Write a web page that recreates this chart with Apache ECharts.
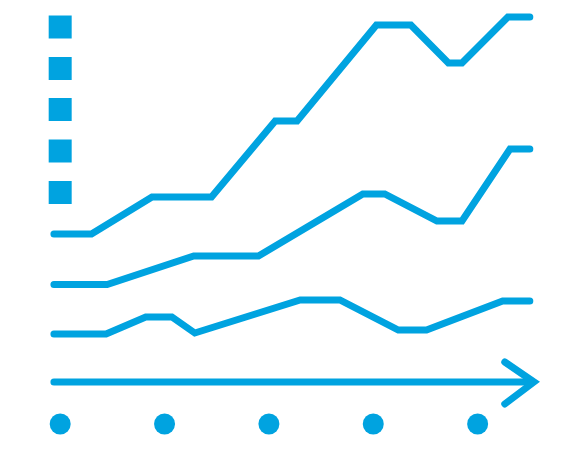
<!DOCTYPE html>
<html>
<head>
<meta charset="utf-8">
<script src="https://cdn.jsdelivr.net/npm/echarts@6/dist/echarts.min.js"></script>
<style>html,body{margin:0;padding:0;background:#fff}#c{width:582px;height:450px}</style>
</head>
<body>
<div id="c"></div>
<script>
// Line series values: [x, y]
var topLine = [[-0.06,14.8],[0.30,14.8],[0.88,18.5],[1.45,18.5],[2.06,26.1],[2.27,26.1],[3.03,35.7],[3.36,35.7],[3.72,31.9],[3.85,31.9],[4.29,36.5],[4.50,36.5]];
var midLine = [[-0.06,9.75],[0.45,9.75],[1.28,12.6],[1.90,12.6],[2.90,18.8],[3.11,18.8],[3.61,16.1],[3.85,16.1],[4.31,23.3],[4.50,23.3]];
var lowLine = [[-0.06,4.8],[0.44,4.8],[0.82,6.5],[1.07,6.5],[1.29,4.9],[2.30,8.2],[2.68,8.2],[3.24,5.2],[3.51,5.2],[4.24,8.1],[4.50,8.1]];
// x-axis category dots and y-axis tick squares
var xDots = [0, 1, 2, 3, 4];
var yTicks = [18.95, 23.1, 27.25, 31.35, 35.5];
// axis arrow
var arrowShaft = [[-0.06,0],[4.50,0]];
var arrowHead = [[4.26,2.0],[4.54,0],[4.26,-2.2]];

var C = '#00a3e0';
function lineSeries(d){
  return {type:'line', data:d, showSymbol:false, symbol:'none', silent:true,
    lineStyle:{color:C, width:7, cap:'round', join:'miter'}};
}
var chart = echarts.init(document.getElementById('c'));
chart.setOption({
  animation:false,
  grid:{left:8, right:0, top:0, bottom:0},
  xAxis:{type:'value', min:-0.5, max:5, show:false},
  yAxis:{type:'value', min:-6.8, max:38.2, show:false},
  series:[
    lineSeries(topLine),
    lineSeries(midLine),
    lineSeries(lowLine),
    lineSeries(arrowShaft),
    lineSeries(arrowHead),
    {type:'scatter', data:xDots.map(function(v){return [v,-4.2];}), symbol:'circle', symbolSize:21, silent:true, itemStyle:{color:C, opacity:1}},
    {type:'scatter', data:yTicks.map(function(v){return [0,v];}), symbol:'rect', symbolSize:23, silent:true, itemStyle:{color:C, opacity:1}}
  ]
});
</script>
</body>
</html>
